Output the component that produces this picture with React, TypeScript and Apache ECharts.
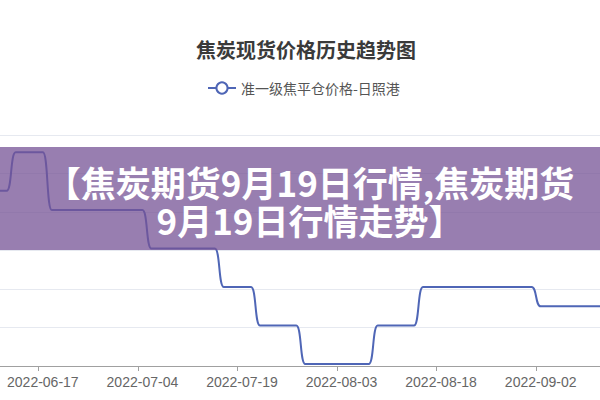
import React, { useEffect, useRef } from "react";
import * as echarts from "echarts";

// Working-day categories (2022)
const categories: string[] = [
  "2022-06-10", "2022-06-13", "2022-06-14", "2022-06-15", "2022-06-16",
  "2022-06-17", "2022-06-20", "2022-06-21", "2022-06-22", "2022-06-23",
  "2022-06-24", "2022-06-27", "2022-06-28", "2022-06-29", "2022-06-30",
  "2022-07-01", "2022-07-04", "2022-07-05", "2022-07-06", "2022-07-07",
  "2022-07-08", "2022-07-11", "2022-07-12", "2022-07-13", "2022-07-14",
  "2022-07-15", "2022-07-18", "2022-07-19", "2022-07-20", "2022-07-21",
  "2022-07-22", "2022-07-25", "2022-07-26", "2022-07-27", "2022-07-28",
  "2022-07-29", "2022-08-01", "2022-08-02", "2022-08-03", "2022-08-04",
  "2022-08-05", "2022-08-08", "2022-08-09", "2022-08-10", "2022-08-11",
  "2022-08-12", "2022-08-15", "2022-08-16", "2022-08-17", "2022-08-18",
  "2022-08-19", "2022-08-22", "2022-08-23", "2022-08-24", "2022-08-25",
  "2022-08-26", "2022-08-29", "2022-08-30", "2022-08-31", "2022-09-01",
  "2022-09-02", "2022-09-05", "2022-09-06", "2022-09-07", "2022-09-08",
  "2022-09-09", "2022-09-13", "2022-09-14",
];

// 准一级焦平仓价格-日照港 (元/吨)
const prices: number[] = [
  3310, 3310,
  3510, 3510, 3510, 3510,
  3210, 3210, 3210, 3210, 3210, 3210, 3210, 3210, 3210, 3210, 3210,
  3010, 3010, 3010, 3010, 3010, 3010, 3010, 3010,
  2810, 2810, 2810, 2810,
  2610, 2610, 2610, 2610, 2610,
  2410, 2410, 2410, 2410, 2410, 2410, 2410, 2410,
  2610, 2610, 2610, 2610, 2610,
  2810, 2810, 2810, 2810, 2810, 2810, 2810, 2810, 2810, 2810, 2810, 2810, 2810,
  2710, 2710, 2710, 2710, 2710, 2710, 2710, 2710,
];

const chartTitle = "焦炭现货价格历史趋势图";
const seriesName = "准一级焦平仓价格-日照港";
const bannerLines: string[] = ["【焦炭期货9月19日行情,焦炭期货", "9月19日行情走势】"];
const firstLabelIndex = 5;
const labelStep = 11;

export default function App() {
  const ref = useRef<HTMLDivElement>(null);

  useEffect(() => {
    if (!ref.current) return;
    const chart = echarts.init(ref.current, undefined, { renderer: "svg" });
    const labelInterval = (index: number) =>
      index >= firstLabelIndex && (index - firstLabelIndex) % labelStep === 0;

    const bannerTextStyle = {
      fill: "#ffffff",
      font: 'bold 35px "Noto Sans CJK SC"',
      textAlign: "center",
      textVerticalAlign: "middle",
      align: "center",
      verticalAlign: "middle",
    };

    chart.setOption({
      animation: false,
      backgroundColor: "#ffffff",
      title: {
        text: chartTitle,
        left: 196,
        top: 39,
        padding: 0,
        textStyle: {
          fontSize: 20,
          fontWeight: "bold",
          color: "#3a3a3a",
          fontFamily: "Noto Sans CJK SC",
        },
      },
      legend: {
        data: [seriesName],
        left: 207,
        top: 81,
        padding: 0,
        itemWidth: 28,
        itemHeight: 14,
        textStyle: {
          fontSize: 14,
          color: "#555555",
          fontFamily: "Noto Sans CJK SC",
        },
      },
      grid: {
        left: -6.95,
        right: -8.55,
        top: 135,
        bottom: 34,
        containLabel: false,
        outerBoundsMode: "none",
      },
      xAxis: {
        type: "category",
        data: categories,
        boundaryGap: true,
        axisLine: { lineStyle: { color: "#a0a0a0", width: 1 } },
        axisTick: {
          show: true,
          interval: labelInterval,
          length: 5,
          lineStyle: { color: "#a0a0a0" },
        },
        axisLabel: {
          interval: labelInterval,
          fontSize: 14,
          color: "#666666",
          margin: 9,
          fontFamily: "Liberation Sans",
        },
        splitLine: { show: false },
      },
      yAxis: {
        type: "value",
        min: 2400,
        max: 3600,
        interval: 200,
        axisLabel: { show: false },
        axisLine: { show: false },
        axisTick: { show: false },
        splitLine: { lineStyle: { color: "#e6e9f0", width: 1 } },
      },
      series: [
        {
          name: seriesName,
          type: "line",
          data: prices,
          smooth: 0.6,
          smoothMonotone: "x",
          symbol: "emptyCircle",
          symbolSize: 8,
          showSymbol: false,
          lineStyle: { color: "#4f66b6", width: 2 },
          itemStyle: { color: "#4f66b6", borderWidth: 2 },
        },
      ],
      graphic: [
        {
          type: "rect",
          z: 100,
          shape: { x: 0, y: 147, width: 600, height: 103 },
          style: { fill: "rgba(118,83,150,0.75)" },
        },
        {
          type: "text",
          z: 101,
          x: 310,
          y: 181,
          style: { ...bannerTextStyle, text: bannerLines[0] },
        },
        {
          type: "text",
          z: 101,
          x: 310,
          y: 219,
          style: { ...bannerTextStyle, text: bannerLines[1] },
        },
      ],
    });
    return () => chart.dispose();
  }, []);

  return (
    <div
      ref={ref}
      style={{ position: "fixed", left: 0, top: 0, width: 600, height: 400 }}
    />
  );
}
